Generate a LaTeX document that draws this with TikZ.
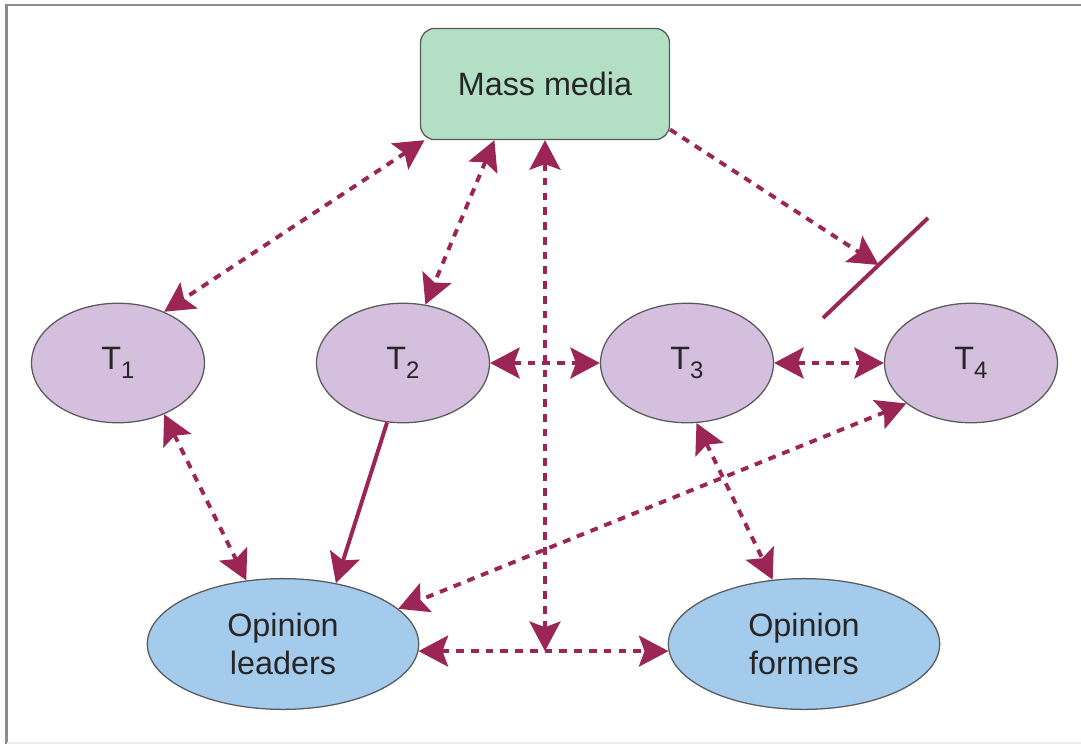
\documentclass[tikz,border=0pt]{standalone}
\usepackage{fontspec}
\setmainfont{Liberation Sans}
\usetikzlibrary{arrows.meta, shapes.geometric, calc}
\definecolor{clink}{HTML}{9B2656}
\definecolor{cgreen}{HTML}{B3DFC5}
\definecolor{cviolet}{HTML}{D4BFDE}
\definecolor{cblue}{HTML}{A4CAEC}
\definecolor{cedge}{HTML}{5A5A5A}
\definecolor{cframe}{HTML}{8C8C8C}
\newcommand{\tsub}[1]{T\raisebox{-0.55ex}{\fontsize{17}{17}\selectfont #1}}
\tikzset{
  every picture/.style={x=0.025cm, y=-0.025cm},
  every node/.style={font=\fontsize{23}{27.5}\selectfont, text=black!85},
  media/.style={draw=cedge, fill=cgreen, rounded corners=10pt, line width=0.9pt, minimum width=177pt, minimum height=79pt},
  topic/.style={ellipse, draw=cedge, fill=cviolet, line width=0.9pt, inner sep=0pt, minimum width=123pt, minimum height=85pt},
  opinion/.style={ellipse, draw=cedge, fill=cblue, line width=0.9pt, inner sep=0pt, align=center, minimum width=193pt, minimum height=93pt},
  link/.style={draw=clink, line width=2.8pt, dash pattern=on 5.5pt off 5pt, {Stealth[length=21pt, width=22pt, inset=4pt]}-{Stealth[length=21pt, width=22pt, inset=4pt]}},
  push/.style={draw=clink, line width=2.8pt, dash pattern=on 5.5pt off 5pt, -{Stealth[length=21pt, width=22pt, inset=4pt]}},
  flow/.style={draw=clink, line width=2.8pt, -{Stealth[length=21pt, width=22pt, inset=4pt]}},
}

\begin{document}
\begin{tikzpicture}
  \useasboundingbox (0,0) rectangle (1081,744);
  % frame
  \draw[cframe, line width=1.5pt] (1081,5) -- (6.5,5) -- (6.5,744);
  \draw[black!8, line width=1pt] (6.5,743) -- (1081,743);
  % nodes
  \node[media] (mass) at (545,84) {Mass media};
  \node[topic] (t1) at (118,363) {\tsub{1}};
  \node[topic] (t2) at (403,363) {\tsub{2}};
  \node[topic] (t3) at (687,363) {\tsub{3}};
  \node[topic] (t4) at (971,363) {\tsub{4}};
  \node[opinion] (leaders) at (283,644) {Opinion\\leaders};
  \node[opinion] (formers) at (804,644) {Opinion\\formers};
  % blocking bar
  \coordinate (barbot) at (823,318);
  \coordinate (bartop) at (928,218);
  \coordinate (halt) at ($(barbot)!0.53!(bartop)$);
  \draw[clink, line width=2.8pt] (barbot) -- (bartop);
  \coordinate (hub) at ($(leaders.357)!0.5!(formers.183)$);
  % links
  \draw[link] (mass.205) -- (t1.48);
  \draw[link] (mass.228) -- (t2.69);
  \draw[link] (mass.south) -- (mass.south |- hub);
  \draw[push] (mass.340) -- (halt);
  \draw[link] (t2.east) -- (t3.west);
  \draw[link] (t3.east) -- (t4.west);
  \draw[link] (t1.312) -- (leaders.120);
  \draw[flow] (t2.255) -- (leaders.49);
  \draw[link] (t4.212) -- (leaders.17);
  \draw[link] (t3.279) -- (formers.116);
  \draw[link] (leaders.357) -- (formers.183);
\end{tikzpicture}
\end{document}
